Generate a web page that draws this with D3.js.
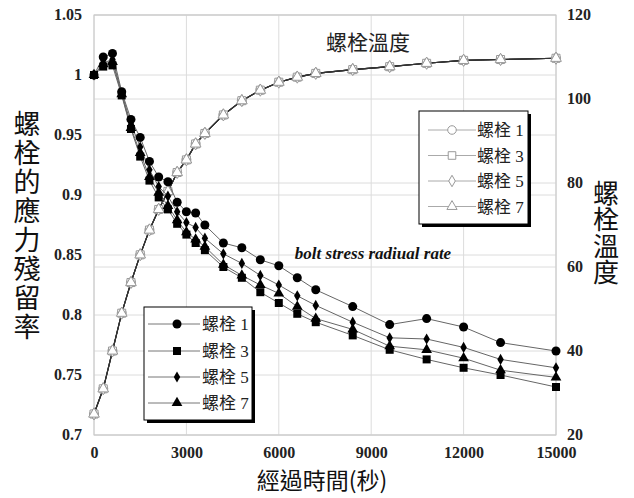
<!DOCTYPE html>
<html><head><meta charset="utf-8">
<script src="https://cdn.jsdelivr.net/npm/d3@7"></script>
<style>body{margin:0;background:#fff}</style>
</head><body>
<svg id="c" width="634" height="498"></svg>
<script>
const times = [0,300,600,900,1200,1500,1800,2100,2400,2700,3000,3300,3600,4200,4800,5400,6000,6600,7200,8400,9600,10800,12000,13200,15000];
const stress1 = [1.0,1.015,1.018,0.986,0.963,0.948,0.928,0.915,0.911,0.894,0.886,0.885,0.875,0.860,0.856,0.846,0.841,0.831,0.821,0.807,0.792,0.797,0.790,0.777,0.770];
const stress3 = [1.0,1.007,1.008,0.983,0.955,0.932,0.912,0.898,0.888,0.876,0.867,0.860,0.854,0.840,0.831,0.819,0.810,0.801,0.794,0.783,0.771,0.763,0.756,0.750,0.740];
const stress5 = [1.0,1.010,1.013,0.985,0.959,0.940,0.921,0.907,0.899,0.886,0.877,0.873,0.864,0.851,0.843,0.833,0.825,0.816,0.808,0.794,0.781,0.780,0.773,0.763,0.756];
const stress7 = [1.0,1.009,1.011,0.984,0.956,0.935,0.915,0.902,0.891,0.879,0.869,0.863,0.857,0.842,0.833,0.825,0.818,0.807,0.797,0.788,0.774,0.771,0.764,0.754,0.748];
const temp1 = [25,31,40,49,56.3,62.9,68.8,73.7,78,82.5,85.5,89.3,91.8,96.2,99.6,102.1,104,105.2,106.1,107,107.7,108.5,109.2,109.4,109.7];
const temp3 = temp1.slice(), temp5 = temp1.slice(), temp7 = temp1.slice();
const seriesNames = ["螺栓 1","螺栓 3","螺栓 5","螺栓 7"];
const xTicks = [0,3000,6000,9000,12000,15000];
const yLeftTicks = [0.7,0.75,0.8,0.85,0.9,0.95,1,1.05];
const yRightTicks = [20,40,60,80,100,120];

const svg = d3.select("#c");
const L=94,R=556,T=15,B=435;
const x = d3.scaleLinear().domain([0,15000]).range([L,R]);
const yL = d3.scaleLinear().domain([0.7,1.05]).range([B,T]);
const yR = d3.scaleLinear().domain([20,120]).range([B,T]);
const serif = "'Liberation Serif','Times New Roman',serif";
const cjk = "'Noto Sans CJK TC','Noto Sans CJK SC',sans-serif";
const mixed = "'Liberation Serif','Noto Sans CJK TC',serif";

const g = svg.append("g");
yLeftTicks.forEach(v=>g.append("line").attr("x1",L).attr("x2",R).attr("y1",yL(v)).attr("y2",yL(v)).attr("stroke","#dcdcdc"));
yRightTicks.forEach(v=>g.append("line").attr("x1",L).attr("x2",R).attr("y1",yR(v)).attr("y2",yR(v)).attr("stroke","#dcdcdc"));
xTicks.forEach(v=>g.append("line").attr("x1",x(v)).attr("x2",x(v)).attr("y1",T).attr("y2",B).attr("stroke","#dcdcdc"));
g.append("rect").attr("x",L).attr("y",T).attr("width",R-L).attr("height",B-T).attr("fill","none").attr("stroke","#c8c8c8");

const axB = svg.append("g").attr("transform",`translate(0,${B})`).call(d3.axisBottom(x).tickValues(xTicks).tickSize(0).tickPadding(12).tickFormat(d3.format("d")));
const axL = svg.append("g").attr("transform",`translate(${L},0)`).call(d3.axisLeft(yL).tickValues(yLeftTicks).tickSize(0).tickPadding(12).tickFormat(d=>String(+d.toFixed(2))));
const axR = svg.append("g").attr("transform",`translate(${R},0)`).call(d3.axisRight(yR).tickValues(yRightTicks).tickSize(0).tickPadding(11).tickFormat(d3.format("d")));
[axB,axL,axR].forEach(a=>{a.select(".domain").remove();a.selectAll("text").attr("font-family",serif).attr("font-weight","bold").attr("font-size",16).attr("fill","#222");});
axL.selectAll("text").attr("dy","0.55em").attr("transform","translate(0,-4)");
axR.selectAll("text").attr("dy","0.55em").attr("transform","translate(0,-4)");

const symbols=[d3.symbolCircle,d3.symbolSquare,d3.symbolDiamond,d3.symbolTriangle];
const sizes=[64,64,42,50];
const tempSeries=[temp1,temp3,temp5,temp7];
const stressSeries=[stress1,stress3,stress5,stress7];

tempSeries.forEach((s,i)=>{
  svg.append("path").datum(s).attr("fill","none").attr("stroke","#333").attr("stroke-width",1.1)
    .attr("d",d3.line().x((d,j)=>x(times[j])).y(d=>yR(d)));
});
tempSeries.forEach((s,i)=>{
  svg.append("g").selectAll("path").data(s).join("path")
    .attr("transform",(d,j)=>`translate(${x(times[j])},${yR(d)})`)
    .attr("d",d3.symbol().type(symbols[i]).size(sizes[i]))
    .attr("fill","#fff").attr("stroke","#999").attr("stroke-width",1);
});
stressSeries.forEach((s,i)=>{
  svg.append("path").datum(s).attr("fill","none").attr("stroke","#666").attr("stroke-width",1)
    .attr("d",d3.line().x((d,j)=>x(times[j])).y(d=>yL(d)));
});
stressSeries.forEach((s,i)=>{
  svg.append("g").selectAll("path").data(s).join("path")
    .attr("transform",(d,j)=>`translate(${x(times[j])},${yL(d)})`)
    .attr("d",d3.symbol().type(symbols[i]).size(i==2?36:sizes[i]))
    .attr("fill","#000");
});

svg.append("text").attr("x",368).attr("y",50).attr("text-anchor","middle").attr("font-family",cjk).attr("font-size",21).attr("fill","#222").text("螺栓溫度");
svg.append("text").attr("x",373).attr("y",259).attr("text-anchor","middle").attr("font-family",serif).attr("font-weight","bold").attr("font-style","italic").attr("font-size",17).attr("fill","#111").text("bolt stress radiual rate");

svg.append("text").attr("x",27).attr("y",110).attr("font-family",cjk).attr("font-size",27).attr("fill","#111")
  .style("writing-mode","vertical-rl").style("letter-spacing","2px").text("螺栓的應力殘留率");
svg.append("text").attr("x",606).attr("y",180).attr("font-family",cjk).attr("font-size",26).attr("fill","#111")
  .style("writing-mode","vertical-rl").style("letter-spacing","0.5px").text("螺栓溫度");
svg.append("text").attr("x",322).attr("y",489).attr("text-anchor","middle").attr("font-family",cjk).attr("font-size",23).attr("fill","#111").text("經過時間(秒)");

function legend(x0,y0,w,h,rows,lineX1,lineX2,mx,tx,filled){
  const lg=svg.append("g");
  lg.append("rect").attr("x",x0+3).attr("y",y0+3).attr("width",w).attr("height",h).attr("fill","#000");
  lg.append("rect").attr("x",x0).attr("y",y0).attr("width",w).attr("height",h).attr("fill","#fff").attr("stroke","#000").attr("stroke-width",1);
  seriesNames.forEach((n,i)=>{
    const yy=rows[i];
    lg.append("line").attr("x1",lineX1).attr("x2",lineX2).attr("y1",yy).attr("y2",yy).attr("stroke",filled?"#777":"#aaa");
    lg.append("path").attr("transform",`translate(${mx},${yy})`).attr("d",d3.symbol().type(symbols[i]).size(filled?(i==2?36:sizes[i]):sizes[i]*0.9))
      .attr("fill",filled?"#000":"#fff").attr("stroke",filled?"none":"#999");
    lg.append("text").attr("x",tx).attr("y",yy).attr("dy","0.36em").attr("font-family",mixed).attr("font-size",17).attr("fill","#222").text(n);
  });
}
legend(144,307,108,113,[324,351,377,403],148,200,177,202,true);
legend(419,111,109,113,[130,155.5,181,206.5],428,476,452,477,false);
</script>
</body></html>
